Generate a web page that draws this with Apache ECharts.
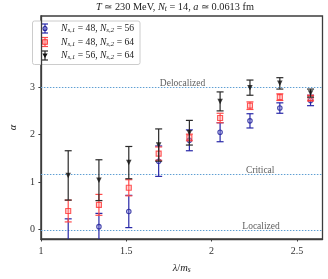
<!DOCTYPE html>
<html><head><meta charset="utf-8">
<script src="https://cdn.jsdelivr.net/npm/echarts@6/dist/echarts.min.js"></script>
<style>html,body{margin:0;padding:0;background:#fff}#c{width:328px;height:279px}</style>
</head><body><div id="c"></div>
<script>
// ---- data ----
var xVals = [1.16, 1.34, 1.515, 1.69, 1.87, 2.05, 2.225, 2.40, 2.58];
var blueVals = [-0.35, 0.06, 0.38, 1.44, 1.88, 2.05, 2.29, 2.56, 2.72];
var blueErr  = [0.575, 0.28, 0.34, 0.32, 0.22, 0.20, 0.15, 0.11, 0.11];
var redVals  = [0.39, 0.52, 0.88, 1.60, 1.94, 2.35, 2.61, 2.79, 2.77];
var redErr   = [0.23, 0.22, 0.17, 0.14, 0.07, 0.10, 0.08, 0.07, 0.06];
var blackVals = [1.14, 1.04, 1.41, 1.78, 2.04, 2.70, 2.99, 3.08, 2.875];
var blackErr  = [0.52, 0.43, 0.34, 0.34, 0.26, 0.20, 0.16, 0.12, 0.085];
var refLevels = [3, 1.18, 0];
var refNames = ['Delocalized', 'Critical', 'Localized'];
var refLabelX = [1.83, 2.285, 2.29];
var xTicks = [1, 1.5, 2, 2.5];
var yTicks = [0, 1, 2, 3];
var seriesNames = ['{i|N}{s|s,1} = 48, {i|N}{s|s,2} = 56',
                   '{i|N}{s|s,1} = 48, {i|N}{s|s,2} = 64',
                   '{i|N}{s|s,1} = 56, {i|N}{s|s,2} = 64'];

var FONT = 'Liberation Serif';
var X_MIN = 1, X_MAX = 2.65;
var richBase = {
  i: {fontStyle: 'italic', fontFamily: FONT, fontSize: 9.6, color: '#222'},
  s: {fontStyle: 'italic', fontFamily: FONT, fontSize: 7, color: '#222', padding: [4, 0, 0, 0]}
};

function errData(vals, errs) {
  return xVals.map(function (x, k) { return [x, vals[k] - errs[k], vals[k] + errs[k]]; });
}
function errSeries(vals, errs, color, z) {
  return {
    type: 'custom', z: z, silent: true,
    data: errData(vals, errs),
    encode: {x: 0, y: [1, 2]},
    clip: true,
    renderItem: function (params, api) {
      var x = api.value(0);
      var lo = api.coord([x, api.value(1)]);
      var hi = api.coord([x, api.value(2)]);
      var w = 3.5;
      var st = {stroke: color, lineWidth: 1.2};
      return {type: 'group', children: [
        {type: 'line', shape: {x1: lo[0], y1: lo[1], x2: hi[0], y2: hi[1]}, style: st},
        {type: 'line', shape: {x1: lo[0] - w, y1: lo[1], x2: lo[0] + w, y2: lo[1]}, style: st},
        {type: 'line', shape: {x1: hi[0] - w, y1: hi[1], x2: hi[0] + w, y2: hi[1]}, style: st}
      ]};
    }
  };
}
function ptSeries(vals, symbol, size, rotate, style, z) {
  return {
    type: 'scatter', z: z, silent: true, symbol: symbol, symbolSize: size, symbolRotate: rotate,
    data: xVals.map(function (x, k) { return [x, vals[k]]; }),
    itemStyle: style
  };
}

var blueC = '#2828a8', redC = '#ff4a4a', blackC = '#2a2a2a';
var blueMark = {color: 'rgba(120,120,220,0.35)', borderColor: '#20209a', borderWidth: 1.1};
var redMark = {color: 'rgba(255,160,160,0.5)', borderColor: '#ff3030', borderWidth: 1.1};
var blackMark = {color: '#111', borderWidth: 0};

var chart = echarts.init(document.getElementById('c'), null, {renderer: 'canvas'});

var refLineSeries = {
  type: 'custom', silent: true, z: 1,
  data: refLevels.map(function (v) { return [v]; }),
  encode: {y: 0},
  renderItem: function (params, api) {
    var v = api.value(0);
    var a = api.coord([X_MIN, v]), b = api.coord([X_MAX, v]);
    var y = Math.round(a[1]) + 0.5;
    return {type: 'line', shape: {x1: a[0], y1: y, x2: b[0], y2: y},
            style: {stroke: '#5f9fd3', lineWidth: 1, lineDash: [1.5, 1.5]}};
  }
};
var refLabelSeries = {
  type: 'scatter', symbolSize: 0, silent: true, z: 2,
  data: refLabelX.map(function (x, k) { return {value: [x, refLevels[k]], name: refNames[k]}; }),
  label: {show: true, position: 'top', distance: -1.5, formatter: '{b}',
          fontFamily: FONT, fontSize: 9.5, color: '#333'}
};

// legend graphics
var legendRows = [28.5, 42, 55.5];
var legendCols = [[blueC, blueMark, 'circle'], [redC, redMark, 'rect'], [blackC, blackMark, 'triangle']];
var legendChildren = [{
  type: 'rect', shape: {x: 32.5, y: 21, width: 107.5, height: 43.5, r: 2},
  style: {fill: '#fff', stroke: '#cccccc', lineWidth: 1}
}];
legendRows.forEach(function (y, k) {
  var c = legendCols[k][0], m = legendCols[k][1];
  var st = {stroke: c, lineWidth: 1.2};
  legendChildren.push({type: 'line', shape: {x1: 45, y1: y - 4.5, x2: 45, y2: y + 4.5}, style: st});
  legendChildren.push({type: 'line', shape: {x1: 42, y1: y - 4.5, x2: 48, y2: y - 4.5}, style: st});
  legendChildren.push({type: 'line', shape: {x1: 42, y1: y + 4.5, x2: 48, y2: y + 4.5}, style: st});
  var sym = legendCols[k][2];
  if (sym === 'circle') {
    legendChildren.push({type: 'circle', shape: {cx: 45, cy: y, r: 2}, style: {fill: m.color, stroke: m.borderColor, lineWidth: 1.1}});
  } else if (sym === 'rect') {
    legendChildren.push({type: 'rect', shape: {x: 42.7, y: y - 2.3, width: 4.6, height: 4.6}, style: {fill: m.color, stroke: m.borderColor, lineWidth: 1.1}});
  } else {
    legendChildren.push({type: 'polygon', shape: {points: [[42.3, y - 2], [47.7, y - 2], [45, y + 2.6]]}, style: {fill: '#111'}});
  }
  legendChildren.push({
    type: 'text', x: 61, y: y, style: {
      text: seriesNames[k], fontFamily: FONT, fontSize: 9.6, fill: '#222',
      verticalAlign: 'middle', rich: richBase
    }
  });
});

var option = {
  animation: false,
  backgroundColor: '#fff',
  grid: {left: 27, right: 5.5, top: 16, bottom: 34, show: true, borderColor: '#3c3c3c', borderWidth: 1.3},
  xAxis: {
    type: 'value', min: X_MIN, max: X_MAX,
    axisLine: {show: true, onZero: false, lineStyle: {color: '#3c3c3c', width: 1.3}},
    axisTick: {show: true, length: 2.5, lineStyle: {color: '#3c3c3c'}, customValues: xTicks},
    axisLabel: {customValues: xTicks, fontFamily: FONT, fontSize: 10, color: '#333', margin: 7},
    splitLine: {show: false},
    name: '{i|λ}/{i|m}{s|s}', nameLocation: 'middle', nameGap: 23,
    nameTextStyle: {fontFamily: FONT, fontSize: 10.5, color: '#222', rich: {
      i: {fontStyle: 'italic', fontFamily: FONT, fontSize: 10.5, color: '#222'},
      s: {fontStyle: 'italic', fontFamily: FONT, fontSize: 7.5, color: '#222', padding: [4, 0, 0, 0]}
    }}
  },
  yAxis: {
    type: 'value', min: -0.2, max: 4.5,
    axisLine: {show: true, onZero: false, lineStyle: {color: '#3c3c3c', width: 1.3}},
    axisTick: {show: true, length: 2.5, lineStyle: {color: '#3c3c3c'}, customValues: yTicks},
    axisLabel: {customValues: yTicks, fontFamily: FONT, fontSize: 10, color: '#333', margin: 6},
    splitLine: {show: false},
    name: 'α', nameLocation: 'middle', nameGap: 17, nameRotate: 90,
    nameTextStyle: {fontFamily: FONT, fontStyle: 'italic', fontSize: 10.5, color: '#222'}
  },
  graphic: [
    {type: 'text', x: 175, y: 7, style: {
      text: '{i|T} ≃ 230 MeV, {i|N}{s|t} = 14, {i|a} ≃ 0.0613 fm',
      fontFamily: FONT, fontSize: 10.3, fill: '#222', align: 'center', verticalAlign: 'middle',
      rich: {
        i: {fontStyle: 'italic', fontFamily: FONT, fontSize: 10.3, color: '#222'},
        s: {fontStyle: 'italic', fontFamily: FONT, fontSize: 7.5, color: '#222', padding: [4, 0, 0, 0]}
      }
    }},
    {type: 'group', z: 100, children: legendChildren}
  ],
  series: [
    refLineSeries,
    refLabelSeries,
    errSeries(blueVals, blueErr, blueC, 3),
    ptSeries(blueVals, 'circle', 4.5, 0, blueMark, 4),
    errSeries(redVals, redErr, redC, 5),
    ptSeries(redVals, 'rect', 5, 0, redMark, 6),
    errSeries(blackVals, blackErr, blackC, 7),
    ptSeries(blackVals, 'triangle', 5.5, 180, blackMark, 8)
  ]
};
chart.setOption(option);
</script>
</body></html>
